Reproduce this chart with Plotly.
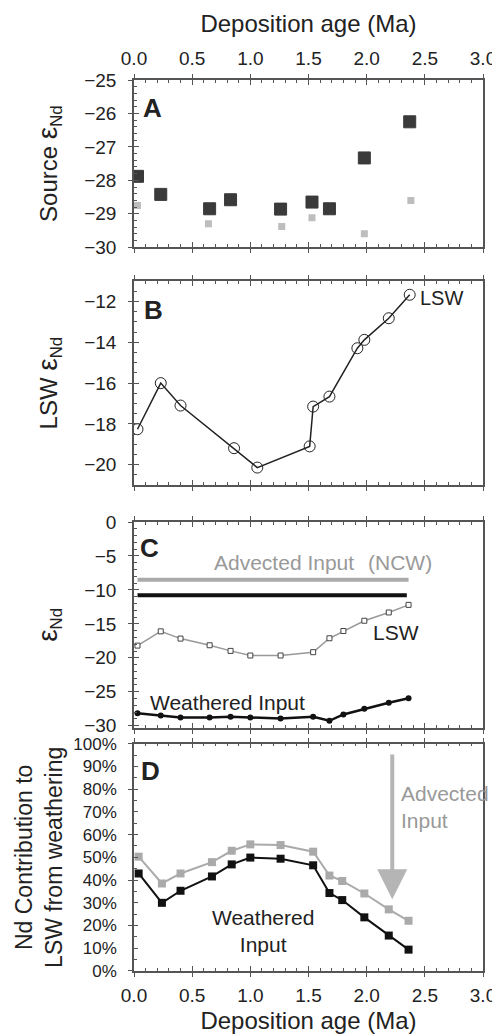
import plotly.graph_objects as go

# ---------------- data ----------------
src_dark_age = [0.03, 0.23, 0.65, 0.83, 1.26, 1.53, 1.68, 1.98, 2.37]
src_dark_eps = [-27.88, -28.42, -28.85, -28.58, -28.86, -28.65, -28.85, -27.33, -26.25]
src_light_age = [0.03, 0.64, 1.27, 1.53, 1.98, 2.38]
src_light_eps = [-28.75, -29.3, -29.38, -29.12, -29.6, -28.6]

lsw_age = [0.03, 0.23, 0.40, 0.86, 1.06, 1.51, 1.54, 1.68, 1.92, 1.98, 2.19, 2.37]
lsw_eps = [-18.26, -16.0, -17.1, -19.19, -20.14, -19.1, -17.15, -16.66, -14.29, -13.88, -12.82, -11.67]

model_age = [0.03, 0.23, 0.40, 0.65, 0.83, 1.0, 1.26, 1.54, 1.68, 1.80, 1.98, 2.19, 2.36]
lsw_model = [-18.2, -16.1, -17.17, -18.15, -18.98, -19.66, -19.66, -19.17, -17.12, -16.05, -14.54, -13.32, -12.2]
weathered_eps = [-28.15, -28.49, -28.78, -28.78, -28.68, -28.78, -28.93, -28.68, -29.27, -28.34, -27.51, -26.63, -25.95]
ncw_age = [0.03, 2.36]
ncw_eps = [-8.5, -8.5]
ncw2_age = [0.03, 2.345]
ncw2_eps = [-10.8, -10.8]

contrib_age = [0.04, 0.24, 0.40, 0.67, 0.84, 1.0, 1.26, 1.54, 1.68, 1.79, 1.98, 2.19, 2.36]
adv_pct = [50.3, 38.5, 42.9, 47.9, 52.9, 55.7, 55.4, 52.5, 42.0, 39.6, 34.1, 27.1, 22.1]
wea_pct = [42.9, 30.0, 35.3, 41.6, 46.9, 49.9, 49.4, 46.5, 34.3, 31.2, 23.6, 15.6, 9.4]

x_ticks = [0.0, 0.5, 1.0, 1.5, 2.0, 2.5, 3.0]

FONT = "Liberation Sans, Arial, Helvetica, sans-serif"
AX = "#555555"
TXT = "#222222"

fig = go.Figure()

# Panel A
fig.add_trace(go.Scatter(x=src_dark_age, y=src_dark_eps, mode="markers", xaxis="x", yaxis="y",
                         marker=dict(symbol="square", size=12, color="#3a3a3a",
                                     line=dict(color="#3a3a3a", width=1)), showlegend=False))
fig.add_trace(go.Scatter(x=src_light_age, y=src_light_eps, mode="markers", xaxis="x", yaxis="y",
                         marker=dict(symbol="square", size=7, color="#bdbdbd"), showlegend=False))
# Panel B
fig.add_trace(go.Scatter(x=lsw_age, y=lsw_eps, mode="lines+markers", xaxis="x2", yaxis="y2",
                         line=dict(color="#222", width=1.5),
                         marker=dict(symbol="circle-open", size=11, color="#222", line=dict(width=1)),
                         showlegend=False))
# Panel C
fig.add_trace(go.Scatter(x=ncw_age, y=ncw_eps, mode="lines", xaxis="x3", yaxis="y3",
                         line=dict(color="#aaaaaa", width=4), showlegend=False))
fig.add_trace(go.Scatter(x=ncw2_age, y=ncw2_eps, mode="lines", xaxis="x3", yaxis="y3",
                         line=dict(color="#111111", width=4), showlegend=False))
fig.add_trace(go.Scatter(x=model_age, y=lsw_model, mode="lines+markers", xaxis="x3", yaxis="y3",
                         line=dict(color="#999999", width=1.5),
                         marker=dict(symbol="square", size=5, color="white", line=dict(color="#444", width=1)),
                         showlegend=False))
fig.add_trace(go.Scatter(x=model_age, y=weathered_eps, mode="lines+markers", xaxis="x3", yaxis="y3",
                         line=dict(color="#111111", width=2.5),
                         marker=dict(symbol="circle", size=6, color="#111111"), showlegend=False))
# Panel D
fig.add_trace(go.Scatter(x=contrib_age, y=adv_pct, mode="lines+markers", xaxis="x4", yaxis="y4",
                         line=dict(color="#aaaaaa", width=2),
                         marker=dict(symbol="square", size=8, color="#aaaaaa"), showlegend=False))
fig.add_trace(go.Scatter(x=contrib_age, y=wea_pct, mode="lines+markers", xaxis="x4", yaxis="y4",
                         line=dict(color="#111111", width=2),
                         marker=dict(symbol="square", size=8, color="#111111"), showlegend=False))

# empty traces so the overlay (outer-tick) axes render
for i in range(1, 5):
    s = "" if i == 1 else str(i)
    fig.add_trace(go.Scatter(x=[None], y=[None], xaxis=f"x{i+4}", yaxis=f"y{s}", showlegend=False, hoverinfo="skip"))
    fig.add_trace(go.Scatter(x=[None], y=[None], xaxis=f"x{s}", yaxis=f"y{i+4}", showlegend=False, hoverinfo="skip"))

domains = [[0.8123, 1.0], [0.5453, 0.7743], [0.273, 0.5039], [0.0, 0.2551]]
yranges = [[-30, -25], [-21, -11], [-30.3, 0], [0, 100]]
ydticks = [1, 2, 5, 10]
ytick0 = [-30, -20, 0, 0]
yminor = [0.2, 0.5, 1, 5]
youter = [1, 2, 5, 20]
EPS = "<span style='font-size:28px'>ε</span>"
ytitles = [f"Source {EPS}<sub>Nd</sub>", f"LSW {EPS}<sub>Nd</sub>", f"{EPS}<sub>Nd</sub>",
           "Nd Contribution to<br>LSW from weathering"]
ystandoff = [20, 20, 20, 4]

tickfont = dict(family=FONT, size=19, color=TXT)
titlefont = dict(family=FONT, size=24, color=TXT)

lay = {}
for i in range(1, 5):
    s = "" if i == 1 else str(i)
    side = "top" if i == 1 else "bottom"
    showlab = i in (1, 4)
    xa = dict(domain=[0, 1], anchor=f"y{s}", range=[0, 3], tickvals=x_ticks, tickformat=".1f",
              ticks="inside", ticklen=5, tickwidth=1.3, tickcolor=AX,
              minor=dict(dtick=0.1, ticks="inside", ticklen=3, tickwidth=1.2, tickcolor=AX),
              showline=True, linecolor=AX, linewidth=1.5, mirror="ticks", showgrid=False, zeroline=False,
              side=side, showticklabels=showlab, tickfont=tickfont, ticklabelstandoff=6)
    if showlab:
        xa["title"] = dict(text="Deposition age (Ma)", font=titlefont, standoff=8)
    lay[f"xaxis{s}"] = xa
    xo = dict(domain=[0, 1], anchor=f"y{s}", overlaying=f"x{s}", range=[0, 3], tickvals=x_ticks,
              ticks="outside", ticklen=5, tickwidth=1.3, tickcolor=AX, showline=False, mirror="ticks",
              showgrid=False, zeroline=False, showticklabels=False, side=side)
    lay[f"xaxis{i+4}"] = xo
    ya = dict(domain=domains[i-1], anchor=f"x{s}", range=yranges[i-1], dtick=ydticks[i-1], tick0=ytick0[i-1],
              ticks="inside", ticklen=5 if i != 4 else 4, tickwidth=1.3, tickcolor=AX,
              minor=dict(dtick=yminor[i-1], ticks="inside", ticklen=3, tickwidth=1.2, tickcolor=AX),
              showline=True, linecolor=AX, linewidth=1.5, mirror=True, showgrid=False, zeroline=False,
              tickfont=tickfont, ticklabelstandoff=12,
              title=dict(text=ytitles[i-1], font=titlefont, standoff=ystandoff[i-1]))
    if i == 4:
        ya["ticksuffix"] = "%"
        ya["tickfont"] = dict(family=FONT, size=17, color=TXT)
        ya["title"]["font"] = dict(family=FONT, size=23, color=TXT)
    if i == 2:
        ya["tickvals"] = [-12, -14, -16, -18, -20]
    lay[f"yaxis{s}"] = ya
    yo = dict(domain=domains[i-1], anchor=f"x{s}", overlaying=f"y{s}", range=yranges[i-1],
              dtick=youter[i-1], tick0=ytick0[i-1], ticks="outside", ticklen=5, tickwidth=1.3, tickcolor=AX,
              showline=False, showgrid=False, zeroline=False, showticklabels=False, side="left")
    if i == 2:
        yo["tickvals"] = [-12, -14, -16, -18, -20]
    lay[f"yaxis{i+4}"] = yo

fig.update_layout(**lay)

ann = []
def label(text, x, y, xr, yr, size=20, color=TXT, bold=False, xanchor="center", align="center"):
    t = f"<b>{text}</b>" if bold else text
    ann.append(dict(text=t, x=x, y=y, xref=xr, yref=yr, showarrow=False, xanchor=xanchor, align=align,
                    font=dict(family=FONT, size=size, color=color)))

label("A", 0.16, -25.83, "x", "y", size=26, bold=True)
label("B", 0.17, -12.4, "x2", "y2", size=26, bold=True)
label("C", 0.13, -3.76, "x3", "y3", size=26, bold=True)
label("D", 0.14, 88.2, "x4", "y4", size=26, bold=True)
label("LSW", 2.44, -11.84, "x2", "y2", size=20, xanchor="left")
label("Advected Input", 1.29, -6.0, "x3", "y3", size=21, color="#999999")
label("(NCW)", 2.29, -6.0, "x3", "y3", size=21, color="#999999")
label("LSW", 2.25, -16.2, "x3", "y3", size=21)
label("Weathered Input", 0.80, -26.6, "x3", "y3", size=21)
label("Advected<br>Input", 2.275, 72.2, "x4", "y4", size=21, color="#999999", xanchor="left", align="left")
label("Weathered<br>Input", 1.11, 17.5, "x4", "y4", size=21)

ann.append(dict(x=2.22, y=31.6, ax=2.22, ay=95.9, xref="x4", yref="y4", axref="x4", ayref="y4",
                showarrow=True, arrowhead=2, arrowsize=1.5, arrowwidth=4, arrowcolor="#b5b5b5", text=""))

fig.update_layout(annotations=ann, width=500, height=1034,
                  margin=dict(l=126, r=15, t=72, b=67),
                  paper_bgcolor="white", plot_bgcolor="white",
                  font=dict(family=FONT, color=TXT))

fig.write_html("out.html")
